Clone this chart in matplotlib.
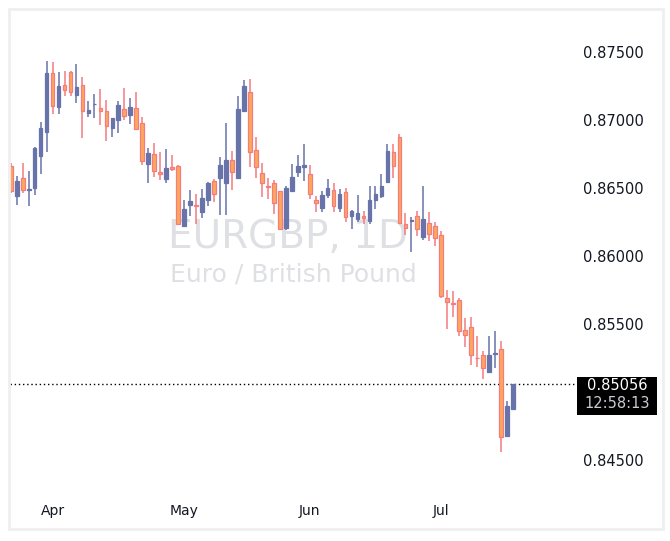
import matplotlib
matplotlib.use("Agg")
import matplotlib.pyplot as plt
import pandas as pd
from matplotlib.patches import Rectangle
from matplotlib.transforms import blended_transform_factory

# EURGBP daily candles (first bar 23 Mar)
start_date = "2021-03-23"

opens = [
    0.86659, 0.86439, 0.86571, 0.86483, 0.86498, 0.86733, 0.86909, 0.87342, 0.87093, 0.87254,
    0.87349, 0.87181, 0.87254, 0.87049, 0.87111, 0.87085, 0.87063, 0.86938, 0.86997, 0.87078,
    0.87034, 0.87085, 0.86975, 0.86674, 0.86747, 0.86615, 0.86564, 0.86652, 0.86659, 0.86219,
    0.86373, 0.86373, 0.86322, 0.86410, 0.86549, 0.86571, 0.86535, 0.86703, 0.86571, 0.87063,
    0.87203, 0.86777, 0.86608, 0.86513, 0.86535, 0.86476, 0.86204, 0.86476, 0.86615, 0.86652,
    0.86601, 0.86410, 0.86351, 0.86446, 0.86483, 0.86351, 0.86468, 0.86292, 0.86270, 0.86292,
    0.86256, 0.86410, 0.86439, 0.86542, 0.86762, 0.86872, 0.86234, 0.86256, 0.86292, 0.86138,
    0.86241, 0.86219, 0.86153, 0.85690, 0.85654, 0.85676, 0.85455, 0.85477, 0.85253, 0.85272,
    0.85147, 0.85279, 0.85316, 0.84677, 0.84875,
]
highs = [
    0.86681, 0.86586, 0.86681, 0.86623, 0.86799, 0.86982, 0.87430, 0.87423, 0.87349, 0.87357,
    0.87357, 0.87408, 0.87313, 0.87137, 0.87188, 0.87225, 0.87144, 0.87012, 0.87137, 0.87232,
    0.87159, 0.87203, 0.87019, 0.86791, 0.86828, 0.86762, 0.86784, 0.86740, 0.86667, 0.86410,
    0.86483, 0.86454, 0.86491, 0.86542, 0.86564, 0.86725, 0.86975, 0.86769, 0.87173, 0.87291,
    0.87298, 0.86872, 0.86681, 0.86571, 0.86557, 0.86476, 0.86513, 0.86674, 0.86740, 0.86821,
    0.86667, 0.86439, 0.86476, 0.86564, 0.86535, 0.86491, 0.86498, 0.86336, 0.86446, 0.86329,
    0.86513, 0.86513, 0.86601, 0.86821, 0.86821, 0.86894, 0.86314, 0.86285, 0.86329, 0.86513,
    0.86322, 0.86248, 0.86182, 0.85749, 0.85742, 0.85690, 0.85543, 0.85551, 0.85411, 0.85301,
    0.85411, 0.85448, 0.85374, 0.84934, 0.85056,
]
lows = [
    0.86461, 0.86373, 0.86461, 0.86366, 0.86446, 0.86601, 0.86762, 0.87041, 0.87041, 0.87173,
    0.87173, 0.87122, 0.86865, 0.87019, 0.87012, 0.86960, 0.86843, 0.86872, 0.86902, 0.86997,
    0.86968, 0.86924, 0.86667, 0.86535, 0.86579, 0.86557, 0.86535, 0.86623, 0.86226, 0.86212,
    0.86292, 0.86234, 0.86278, 0.86366, 0.86395, 0.86300, 0.86300, 0.86483, 0.86571, 0.87063,
    0.86652, 0.86571, 0.86432, 0.86417, 0.86307, 0.86190, 0.86190, 0.86468, 0.86579, 0.86549,
    0.86417, 0.86322, 0.86322, 0.86424, 0.86322, 0.86322, 0.86248, 0.86197, 0.86248, 0.86234,
    0.86234, 0.86344, 0.86424, 0.86542, 0.86571, 0.86234, 0.86153, 0.86028, 0.86145, 0.86116,
    0.86109, 0.86072, 0.85690, 0.85463, 0.85551, 0.85411, 0.85330, 0.85198, 0.85184, 0.85096,
    0.85147, 0.85176, 0.84560, 0.84670, 0.84875,
]
closes = [
    0.86476, 0.86549, 0.86483, 0.86491, 0.86791, 0.86938, 0.87342, 0.87100, 0.87247, 0.87217,
    0.87203, 0.87239, 0.87063, 0.87071, 0.87115, 0.87063, 0.86953, 0.87012, 0.87107, 0.87026,
    0.87093, 0.86931, 0.86696, 0.86755, 0.86623, 0.86601, 0.86645, 0.86637, 0.86234, 0.86344,
    0.86402, 0.86366, 0.86424, 0.86535, 0.86454, 0.86667, 0.86703, 0.86615, 0.87078, 0.87247,
    0.86762, 0.86652, 0.86535, 0.86505, 0.86388, 0.86197, 0.86498, 0.86579, 0.86659, 0.86667,
    0.86454, 0.86388, 0.86446, 0.86498, 0.86366, 0.86454, 0.86285, 0.86329, 0.86314, 0.86278,
    0.86410, 0.86454, 0.86513, 0.86769, 0.86659, 0.86241, 0.86204, 0.86263, 0.86197, 0.86270,
    0.86160, 0.86131, 0.85705, 0.85661, 0.85646, 0.85448, 0.85419, 0.85272, 0.85246, 0.85176,
    0.85272, 0.85286, 0.84670, 0.84897, 0.85056,
]

price_ticks = [0.845, 0.855, 0.860, 0.865, 0.870, 0.875]
symbol = "EURGBP, 1D"
description = "Euro / British Pound"
countdown = "12:58:13"

UP_COLOR = "#6773a9"
DOWN_FILL = "#fca85a"
DOWN_EDGE = "#f47b80"
TEXT_COLOR = "#131722"
WATERMARK = "#dfe0e4"

W, H = 670, 541
fig = plt.figure(figsize=(W / 100, H / 100), dpi=100)

# pane in pixels: x 10..577, y 10..492
ax = fig.add_axes([10 / W, (H - 492) / H, 567 / W, 482 / H])

# outer widget frame
fig.patches.append(Rectangle((9 / W, (H - 529) / H), 654 / W, 520 / H,
                             transform=fig.transFigure, fill=False,
                             edgecolor="#efeff2", linewidth=2.0))

idx = list(range(len(closes)))
up = [c >= o for o, c in zip(opens, closes)]
wick_colors = [UP_COLOR if u else DOWN_EDGE for u in up]
body_fill = [UP_COLOR if u else DOWN_FILL for u in up]
bottoms = [min(o, c) for o, c in zip(opens, closes)]
heights = [abs(c - o) for o, c in zip(opens, closes)]

ax.vlines(idx, lows, highs, colors=wick_colors, linewidth=1.1, zorder=2)
ax.bar(idx, heights, bottom=bottoms, width=0.62, color=body_fill,
       edgecolor=wick_colors, linewidth=0.9, zorder=3)

# scale: 0.875 sits at pixel 51.5, 68.1 px per 0.005
px_per_unit = 68.1 / 0.005
ax.set_ylim(0.875 - (492 - 51.5) / px_per_unit, 0.875 + (51.5 - 10) / px_per_unit)
ax.set_xlim(-0.12, 94.7)

# month labels at first bar of each month
dates = pd.bdate_range(start_date, periods=len(closes))
month_pos = [i for i in range(1, len(dates)) if dates[i].month != dates[i - 1].month]
ax.set_xticks(month_pos)
ax.set_xticklabels([dates[i].strftime("%b") for i in month_pos],
                   fontsize=10, color=TEXT_COLOR)
ax.tick_params(axis="x", length=0, pad=9)

ax.yaxis.tick_right()
ax.set_yticks(price_ticks)
ax.set_yticklabels([f"{p:.5f}" for p in price_ticks], fontsize=10.5, color=TEXT_COLOR)
ax.tick_params(axis="y", length=0, pad=4.3)

for s in ax.spines.values():
    s.set_visible(False)

# watermark
ax.text(0.49, 0.53, symbol, transform=ax.transAxes, ha="center", va="center",
        fontsize=28, color=WATERMARK, zorder=0)
ax.text(0.5, 0.452, description, transform=ax.transAxes, ha="center", va="center",
        fontsize=18, color=WATERMARK, zorder=0)

# last price line + label
last = closes[-1]
ax.axhline(last, color="black", linestyle=(0, (1, 2)), linewidth=1, zorder=1)
trans = blended_transform_factory(ax.transAxes, ax.transData)
ax.add_patch(Rectangle((1.0, last - 30.6 / px_per_unit), 80 / 567, 38.3 / px_per_unit,
                       transform=trans, clip_on=False, facecolor="black",
                       edgecolor="none", zorder=5))
ax.text(1.0 + 40 / 567, last - 1 / px_per_unit, f"{last:.5f}", transform=trans,
        ha="center", va="center", fontsize=10.5, color="white", zorder=6)
ax.text(1.0 + 40 / 567, last - 19 / px_per_unit, countdown, transform=trans,
        ha="center", va="center", fontsize=10.5, color="#c9ccd4", zorder=6)

fig.savefig("out.png", dpi=100)
